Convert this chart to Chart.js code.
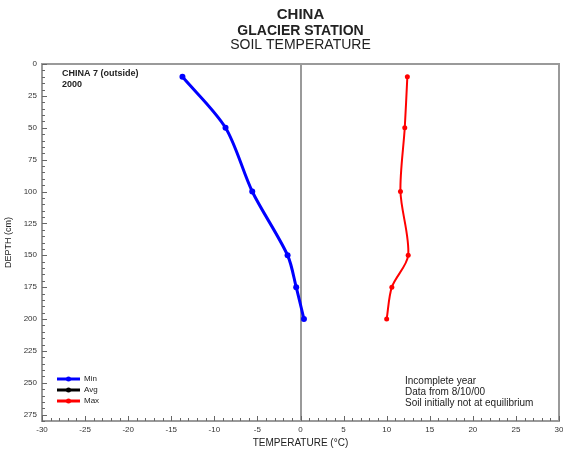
<!DOCTYPE html>
<html>
<head>
<meta charset="utf-8">
<script src="https://cdn.jsdelivr.net/npm/chart.js@4"></script>
<style>
  html, body { margin: 0; padding: 0; background: #fff; }
  #wrap { width: 563px; height: 456px; position: relative; }
</style>
</head>
<body>
<div id="wrap"><canvas id="chart_1"></canvas></div>
<script>
// depth (cm) of each sensor and the temperatures read at it
const depths = [10, 50, 100, 150, 175, 200];
const minTemps = [-13.7, -8.7, -5.6, -1.5, -0.5, 0.4];
const avgTemps = [];
const maxTemps = [12.4, 12.1, 11.6, 12.5, 10.6, 10.0];
const seriesNames = ['Min', 'Avg', 'Max'];
const xTicks = [-30, -25, -20, -15, -10, -5, 0, 5, 10, 15, 20, 25, 30];
const yTicks = [0, 25, 50, 75, 100, 125, 150, 175, 200, 225, 250, 275];
const notes = ['Incomplete year', 'Data from 8/10/00', 'Soil initially not at equilibrium'];

const FONT = 'Liberation Sans, Arial, sans-serif';
const AXIS_GREY = '#9a9a9a';

function pts(temps) {
    return temps.map(function (t, i) { return { x: t, y: depths[i] }; });
}

// frame, inward ticks, titles, notes and the small legend
const decor = {
    id: 'decor',
    beforeDatasetsDraw(chart) {
        const ctx = chart.ctx;
        const a = chart.chartArea;
        const xs = chart.scales.x;
        const ys = chart.scales.y;
        ctx.save();
        ctx.strokeStyle = AXIS_GREY;
        ctx.lineWidth = 2;
        ctx.strokeRect(a.left, a.top, a.right - a.left, a.bottom - a.top);

        ctx.strokeStyle = '#666';
        ctx.lineWidth = 1;
        ctx.beginPath();
        for (let v = -30; v <= 30; v++) {
            const px = Math.round(xs.getPixelForValue(v)) + 0.5;
            const len = v % 5 === 0 ? 5 : 3;
            ctx.moveTo(px, a.bottom);
            ctx.lineTo(px, a.bottom - len);
        }
        for (let d = 0; d <= 280; d += 5) {
            const py = Math.round(ys.getPixelForValue(d)) + 0.5;
            const len = d % 25 === 0 ? 5 : 3;
            ctx.moveTo(a.left, py);
            ctx.lineTo(a.left + len, py);
        }
        ctx.stroke();
        ctx.restore();
    },
    afterDraw(chart) {
        const ctx = chart.ctx;
        const a = chart.chartArea;
        const cx = (a.left + a.right) / 2;
        ctx.save();
        ctx.fillStyle = '#222';
        ctx.textAlign = 'center';
        ctx.textBaseline = 'middle';
        ctx.font = 'bold 15px ' + FONT;
        ctx.fillText('CHINA', cx, 15);
        ctx.font = 'bold 14px ' + FONT;
        ctx.fillText('GLACIER STATION', cx, 31);
        ctx.font = '14px ' + FONT;
        ctx.fillText('SOIL TEMPERATURE', cx, 45);

        ctx.font = '10px ' + FONT;
        ctx.fillText('TEMPERATURE (\u00B0C)', cx, 443);

        ctx.save();
        ctx.translate(9, (a.top + a.bottom) / 2);
        ctx.rotate(-Math.PI / 2);
        ctx.font = '9px ' + FONT;
        ctx.fillText('DEPTH (cm)', 0, 0);
        ctx.restore();

        ctx.textAlign = 'left';
        ctx.font = 'bold 9px ' + FONT;
        ctx.fillText('CHINA 7 (outside)', 62, 74);
        ctx.fillText('2000', 62, 85);

        ctx.font = '10px ' + FONT;
        notes.forEach(function (t, i) {
            ctx.fillText(t, 405, 381 + i * 11);
        });

        ctx.font = '8px ' + FONT;
        chart.data.datasets.forEach(function (ds, i) {
            const y = 379 + i * 11;
            ctx.strokeStyle = ds.borderColor;
            ctx.fillStyle = ds.borderColor;
            ctx.lineWidth = 3;
            ctx.beginPath();
            ctx.moveTo(57, y);
            ctx.lineTo(80, y);
            ctx.stroke();
            ctx.beginPath();
            ctx.arc(68.5, y, 2.5, 0, Math.PI * 2);
            ctx.fill();
            ctx.fillStyle = '#222';
            ctx.fillText(ds.label, 84, y);
        });
        ctx.restore();
    }
};

new Chart(document.getElementById('chart_1'), {
    type: 'line',
    data: {
        datasets: [
            {
                label: seriesNames[0],
                data: pts(minTemps),
                borderColor: '#0000ff',
                backgroundColor: '#0000ff',
                borderWidth: 3,
                pointRadius: 3,
                pointBorderWidth: 0
            },
            {
                label: seriesNames[1],
                data: pts(avgTemps),
                borderColor: '#000000',
                backgroundColor: '#000000',
                borderWidth: 3,
                pointRadius: 3,
                pointBorderWidth: 0
            },
            {
                label: seriesNames[2],
                data: pts(maxTemps),
                borderColor: '#ff0000',
                backgroundColor: '#ff0000',
                borderWidth: 2,
                pointRadius: 2.5,
                pointBorderWidth: 0
            }
        ]
    },
    options: {
        responsive: true,
        maintainAspectRatio: false,
        animation: false,
        tension: 0.3,
        layout: { padding: { top: 64, right: 3, bottom: 0, left: 0 } },
        plugins: {
            legend: { display: false },
            tooltip: { enabled: false }
        },
        scales: {
            x: {
                type: 'linear',
                min: -30,
                max: 30,
                afterBuildTicks(scale) { scale.ticks = xTicks.map(function (v) { return { value: v }; }); },
                afterFit(scale) { scale.height = 35; scale.paddingLeft = 0; scale.paddingRight = 0; },
                ticks: { font: { family: FONT, size: 8 }, color: '#333', padding: 4, maxRotation: 0 },
                grid: {
                    drawTicks: false,
                    color: function (c) { return c.tick && c.tick.value === 0 ? AXIS_GREY : 'transparent'; },
                    lineWidth: 2
                },
                border: { display: false }
            },
            y: {
                type: 'linear',
                reverse: true,
                min: 0,
                max: 280,
                afterBuildTicks(scale) { scale.ticks = yTicks.map(function (v) { return { value: v }; }); },
                afterFit(scale) { scale.width = 42; scale.paddingTop = 0; scale.paddingBottom = 0; },
                ticks: { font: { family: FONT, size: 8 }, color: '#333', padding: 5 },
                grid: { display: false, drawTicks: false },
                border: { display: false }
            }
        }
    },
    plugins: [decor]
});
</script>
</body>
</html>
